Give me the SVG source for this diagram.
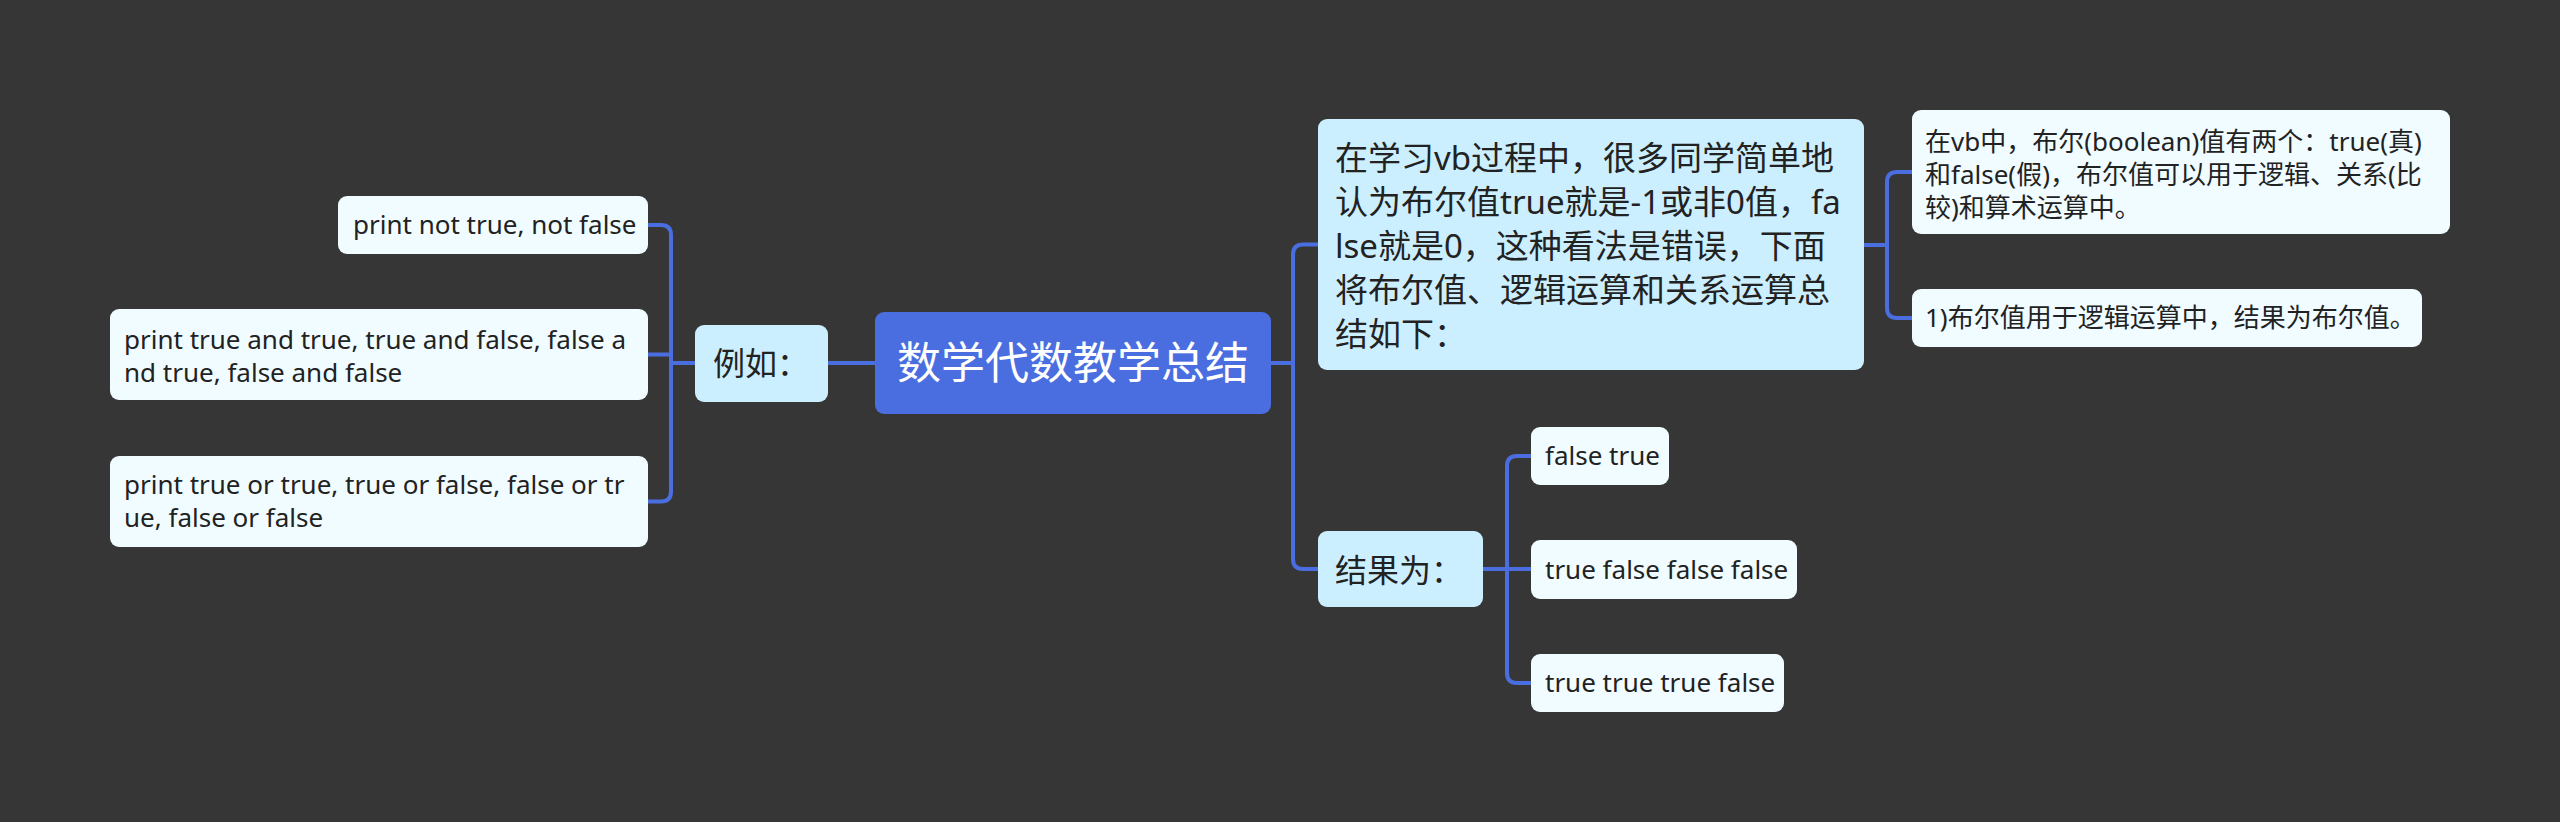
<svg xmlns="http://www.w3.org/2000/svg" width="2560" height="822" viewBox="0 0 2560 822">
<style>
.bg{fill:#373636}
.root rect{fill:#4a6ee0}
.l1 rect{fill:#ccefff}
.l2 rect{fill:#f0fcff}
.root text{fill:#ffffff;font-family:"Noto Sans CJK SC","Noto Sans",sans-serif;font-size:44px}
.l1 text{fill:#222222;font-family:"Noto Sans","Noto Sans CJK SC",sans-serif;font-size:33px}
.l2 text{fill:#222222;font-family:"Noto Sans","Noto Sans CJK SC",sans-serif;font-size:26px}
.conn path{fill:none;stroke:#4a6ee0;stroke-width:4;stroke-linecap:round;stroke-linejoin:round}
</style>
<rect class="bg" x="0" y="0" width="2560" height="822"/>
<g class="conn" id="connectors">
<path d="M875,363 H828"/>
<path d="M695,363 H671"/>
<path d="M648,225 H661 Q671,225 671,235 V491.5 Q671,501.5 661,501.5 H648"/>
<path d="M648,354.5 H671"/>
<path d="M1270,363 H1293"/>
<path d="M1318,244.5 H1303 Q1293,244.5 1293,254.5 V559 Q1293,569 1303,569 H1318"/>
<path d="M1864,245 H1887"/>
<path d="M1912,172 H1897 Q1887,172 1887,182 V308 Q1887,318 1897,318 H1912"/>
<path d="M1483,569 H1531"/>
<path d="M1531,456 H1517 Q1507,456 1507,466 V673 Q1507,683 1517,683 H1531"/>
</g>
<g id="root" class="root">
<rect x="875" y="312" width="396" height="102" rx="9"/>
<text x="1073" y="379" text-anchor="middle">数学代数教学总结</text>
</g>
<g id="n-liru" class="l1">
<rect x="695" y="325" width="133" height="77" rx="9"/>
<text x="713" y="375" style="font-size:32px">例如：</text>
</g>
<g id="n-left1" class="l2">
<rect x="338" y="196" width="310" height="58" rx="9"/>
<text x="353" y="234">print not true, not false</text>
</g>
<g id="n-left2" class="l2">
<rect x="110" y="309" width="538" height="91" rx="9"/>
<text x="124" y="349">print true and true, true and false, false a</text>
<text x="124" y="382">nd true, false and false</text>
</g>
<g id="n-left3" class="l2">
<rect x="110" y="456" width="538" height="91" rx="9"/>
<text x="124" y="494">print true or true, true or false, false or tr</text>
<text x="124" y="527">ue, false or false</text>
</g>
<g id="n-big" class="l1">
<rect x="1318" y="119" width="546" height="251" rx="9"/>
<text x="1335" y="170">在学习vb过程中，很多同学简单地</text>
<text x="1335" y="214">认为布尔值true就是-1或非0值，fa</text>
<text x="1335" y="258">lse就是0，这种看法是错误，下面</text>
<text x="1335" y="302">将布尔值、逻辑运算和关系运算总</text>
<text x="1335" y="346">结如下：</text>
</g>
<g id="n-result" class="l1">
<rect x="1318" y="531" width="165" height="76" rx="9"/>
<text x="1335" y="582" style="font-size:32px">结果为：</text>
</g>
<g id="n-r1" class="l2">
<rect x="1912" y="110" width="538" height="124" rx="9"/>
<text x="1925" y="151">在vb中，布尔(boolean)值有两个：true(真)</text>
<text x="1925" y="184">和false(假)，布尔值可以用于逻辑、关系(比</text>
<text x="1925" y="217">较)和算术运算中。</text>
</g>
<g id="n-r2" class="l2">
<rect x="1912" y="289" width="510" height="58" rx="9"/>
<text x="1925" y="327">1)布尔值用于逻辑运算中，结果为布尔值。</text>
</g>
<g id="n-res1" class="l2">
<rect x="1531" y="427" width="138" height="58" rx="9"/>
<text x="1545" y="465">false true</text>
</g>
<g id="n-res2" class="l2">
<rect x="1531" y="540" width="266" height="59" rx="9"/>
<text x="1545" y="579">true false false false</text>
</g>
<g id="n-res3" class="l2">
<rect x="1531" y="654" width="253" height="58" rx="9"/>
<text x="1545" y="692">true true true false</text>
</g>
</svg>
